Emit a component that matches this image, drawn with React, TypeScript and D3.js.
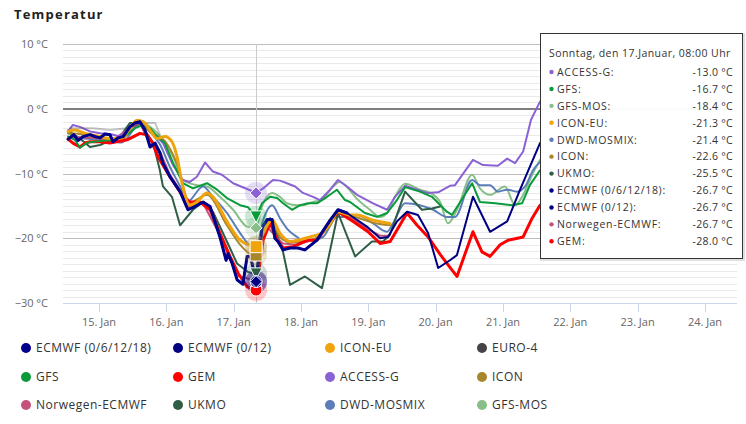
import React from 'react';
import * as d3 from 'd3';

const W = 746;
const H = 424;

const titleText = 'Temperatur';
const yTickValues = [10, 0, -10, -20, -30];
const xTickHours = [0, 24, 48, 72, 96, 120, 144, 168, 192, 216];
const xTickLabels = ['15. Jan', '16. Jan', '17. Jan', '18. Jan', '19. Jan', '20. Jan', '21. Jan', '22. Jan', '23. Jan', '24. Jan'];
const hoverHour = 56;
const tooltipHeader = 'Sonntag, den 17.Januar, 08:00 Uhr';

const seriesNames = ['ECMWF (0/6/12/18)', 'ECMWF (0/12)', 'ICON-EU', 'EURO-4', 'GFS', 'GEM', 'ACCESS-G', 'ICON', 'Norwegen-ECMWF', 'UKMO', 'DWD-MOSMIX', 'GFS-MOS'];
const seriesColors = ['#00008b', '#000080', '#efa30c', '#434348', '#0a9a3c', '#ff0000', '#8a62d4', '#a8862c', '#c2527a', '#2f5e46', '#5b7eb9', '#88bf88'];
const seriesSymbols = ['circle', 'diamond', 'square', 'triangle', 'triangle-down', 'circle', 'diamond', 'square', 'triangle', 'triangle-down', 'circle', 'diamond'];

// [hours from 15 Jan 00:00, °C]
const ecmwfData: [number, number][] = [
  [-11, -4.7], [-9, -4.0], [-7.5, -4.9], [-5.7, -4.3], [-3.2, -4.0], [-1.4, -4.3], [0.4, -4.5], [2.1, -3.9], [3.9, -4.0], [5, -5.1],
  [6.8, -4.5], [8.6, -4.3], [11, -2.8], [12.8, -2.2], [14.6, -2.0], [16.4, -3.3], [18.2, -5.9], [20, -5.3], [21.7, -6.8], [22.8, -8.4],
  [25.3, -10.5], [28.9, -12.8], [31.7, -15.6], [34.2, -15.1], [37.1, -14.4], [39.6, -15.1], [43.1, -19.8], [45.3, -23.4], [46, -22.4], [47.4, -23.8],
  [49.2, -26.4], [51.3, -27.1], [52.8, -22.8], [54, -22.8], [56, -26.7], [58.1, -18.4], [59.9, -17.1], [61.7, -17.1], [62.7, -20.0], [63.8, -20.5],
  [65.6, -21.8], [68.1, -21.5], [70.9, -21.5], [73.4, -21.8], [77.7, -20.3], [82.4, -17.2], [85.2, -15.6], [88.4, -16.1], [95.5, -18.2], [100.2, -20.0],
  [103, -19.8], [106.2, -17.4], [109.8, -15.9], [113.7, -16.4], [117.3, -19.2], [120.9, -24.6], [125.1, -23.4], [127.6, -22.6], [133.3, -13.6], [139.4, -19.0],
  [145.5, -17.4], [150.1, -12.5], [157.2, -5.3],
];
const ecmwf4RunsEnd = 88.4;

const iconEuData: [number, number][] = [
  [-11, -3.5], [-8.6, -3.3], [-5, -3.8], [0.4, -4.3], [3.9, -4.6], [8.2, -4.5], [11, -3.0], [13.5, -1.8], [15.7, -2.0], [18.2, -3.3],
  [20.7, -4.6], [23.5, -4.3], [26, -5.1], [27.8, -7.4], [29.6, -11.5], [32.4, -14.9], [34.9, -14.4], [38.5, -13.0], [40.6, -13.6], [45.6, -17.4],
  [50.3, -20.3], [53.1, -21.0], [56, -21.3], [58.5, -19.2], [61.7, -17.2], [64.5, -19.2], [68.1, -20.5], [70.9, -20.3], [75.2, -19.8], [79.5, -19.2],
  [82.4, -17.7], [85.2, -15.9], [89.5, -16.4], [92, -16.4], [97.7, -17.2], [103.7, -17.7],
];

const euro4Data: [number, number][] = [
  [-10.3, -3.0], [-2.1, -3.0], [3.9, -3.3], [10, -3.0], [15.7, -2.2], [20, -2.2], [21.7, -4.0],
];

const gfsData: [number, number][] = [
  [-11, -4.3], [-8.6, -4.8], [-6.8, -6.0], [-3.9, -5.2], [0.4, -5.0], [5.7, -4.8], [10, -4.0], [12.8, -3.0], [15.3, -2.6], [18.2, -3.0],
  [20.7, -4.3], [23.5, -5.3], [26.4, -8.4], [29.9, -11.5], [33.5, -12.3], [38.5, -11.5], [42.1, -12.5], [45.6, -13.8], [50.3, -14.9], [53.1, -15.2],
  [56, -16.7], [58.1, -14.6], [61, -13.6], [63.5, -13.8], [65.6, -14.6], [68.8, -15.6], [71.7, -14.9], [74.5, -14.6], [77.7, -14.6], [81.3, -13.6],
  [84.8, -12.5], [87.7, -14.1], [89.5, -14.4], [94.8, -16.1], [99.1, -16.7], [102.7, -16.1], [106.2, -14.1], [109.1, -12.1], [114.4, -12.8], [118.7, -13.6],
  [124, -15.9], [125.8, -16.4], [133, -11.5], [135.8, -14.4], [141.2, -14.6], [147.2, -14.9], [150.8, -14.6], [153.6, -11.8], [157.2, -9.5],
];

const gemData: [number, number][] = [
  [-11, -4.7], [-9.3, -5.3], [-6.8, -5.9], [-5, -5.3], [-3.2, -5.1], [0.4, -5.1], [3.9, -5.3], [10, -4.8], [14.6, -3.8], [17.1, -4.0],
  [18.9, -5.1], [21, -7.4], [25.3, -10.5], [29.6, -13.3], [32.4, -14.4], [36, -14.4], [39.6, -15.6], [43.1, -19.2], [46.7, -22.8], [49.6, -25.4],
  [52.8, -27.5], [56, -28.0], [58.5, -20.3], [61, -17.6], [63.5, -20.3], [65.6, -21.5], [69.2, -21.3], [74.2, -20.3], [77.7, -20.3], [81.3, -18.2],
  [85.2, -15.9], [90.6, -17.4], [95.9, -19.0], [100.2, -20.8], [103.8, -20.5], [109.8, -16.1], [113.4, -18.0], [117.3, -19.8], [121.6, -22.5], [125.1, -24.5],
  [127.6, -25.9], [133.3, -19.0], [136.5, -22.1], [139.4, -22.8], [143, -21.0], [145.8, -20.3], [151.2, -19.8], [154.4, -16.9], [157.2, -14.9],
];

const accessGData: [number, number][] = [
  [-11, -3.5], [-9.3, -2.5], [-6.8, -2.8], [-3.2, -3.5], [0.4, -3.8], [3.9, -3.9], [7.5, -4.3], [11, -3.0], [13.5, -1.75], [15.7, -2.0],
  [18.2, -3.3], [22.8, -5.3], [26.4, -8.7], [29.9, -11.0], [32.4, -11.3], [34.9, -10.5], [37.8, -8.3], [40.6, -9.7], [43.8, -10.2], [47.8, -11.5],
  [52.8, -12.4], [56, -13.0], [58.5, -12.3], [62, -11.0], [64.5, -11.1], [67, -11.5], [69.9, -12.0], [72.7, -13.0], [76.3, -13.6], [78.8, -14.1],
  [82.4, -12.5], [85.2, -11.0], [88.4, -12.0], [92, -13.3], [97.7, -14.6], [102.7, -15.6], [105.5, -13.6], [109.1, -11.9], [113.4, -12.5], [116.9, -13.0],
  [120.9, -12.9], [125.1, -11.9], [126.9, -11.8], [133.3, -7.9], [136.9, -8.7], [142.2, -8.8], [145.5, -7.7], [148.3, -8.4], [151.2, -6.6], [154, -1.7],
  [157.2, 1.1],
];

const iconData: [number, number][] = [
  [-11, -3.8], [-5, -4.0], [0.4, -4.5], [8.2, -4.7], [13.5, -2.0], [18.2, -3.6], [23.5, -5.0], [27.8, -8.5], [32.4, -14.6], [34.9, -14.0],
  [38.5, -13.3], [45.6, -18.0], [50.3, -21.0], [53.1, -22.2], [56, -22.6], [58.5, -19.8], [61.7, -17.6], [64.5, -19.8], [68.1, -20.6], [75.2, -20.3],
  [82.4, -18.0], [85.2, -16.1], [92, -16.8], [97.7, -17.6], [103.7, -18.0],
];

const norwegenData: [number, number][] = [
  [-11, -4.5], [-5.7, -4.4], [0.4, -4.6], [5, -4.8], [11, -3.0], [14.6, -2.2], [18.2, -5.5], [21.7, -6.6], [25.3, -10.2], [28.9, -12.6],
  [31.7, -15.2], [37.1, -14.6], [43.1, -19.5], [49.2, -25.8], [52.8, -26.2], [56, -26.7], [58.1, -19.0], [59.9, -18.2], [62.7, -19.6], [65.6, -20.8],
  [70.9, -21.0], [77.7, -20.0], [82.4, -17.4], [85.2, -15.9], [88.4, -16.4], [95.5, -18.5], [100.2, -19.6], [103, -19.6],
];

const ukmoData: [number, number][] = [
  [-10.3, -3.7], [-6.8, -4.6], [-3.2, -5.9], [0.4, -5.6], [2.9, -5.1], [7.5, -4.3], [11, -2.2], [14.6, -2.2], [19.3, -5.3], [21.7, -9.5],
  [22.8, -12.0], [26, -13.6], [28.9, -18.0], [33.5, -15.6], [37.1, -14.4], [40.6, -15.9], [45.6, -20.5], [49.2, -23.9], [53.1, -25.2], [56, -25.5],
  [58.5, -18.2], [61, -16.9], [65.2, -21.3], [68.1, -27.2], [73.4, -25.9], [79.5, -27.7], [85.2, -16.1], [91.3, -22.8], [97.3, -20.5], [101.2, -20.5],
  [103.7, -19.5], [109.1, -12.8], [115.1, -15.6], [118.7, -15.4], [121.6, -15.1],
];

const dwdMosmixData: [number, number][] = [
  [-11, -3.3], [-6.8, -4.5], [0.4, -4.8], [8.2, -5.2], [12.8, -3.0], [15.7, -2.2], [18.2, -3.5], [21.7, -5.5], [25.3, -9.0], [28.9, -12.0],
  [31.4, -14.4], [37.1, -12.0], [40.6, -13.6], [45.6, -16.1], [50.3, -19.2], [53.1, -20.8], [56, -21.4], [58.5, -17.2], [61.7, -14.9], [64.5, -16.9],
  [67, -18.5], [70.6, -19.8], [73.4, -20.5], [76.3, -20.3], [79.9, -19.8], [84.8, -16.7], [88.4, -16.7], [92, -16.4], [97.7, -17.7], [102.7, -19.0],
  [104.8, -17.7], [109.1, -14.6], [114.4, -14.9], [119.1, -15.6], [124, -16.7], [126.9, -16.7], [133, -11.0], [135.8, -11.8], [139.4, -11.8], [142.2, -12.8],
  [145.5, -12.5], [149, -12.8], [151.9, -12.0], [154.7, -9.5], [157.2, -8.2],
];

const gfsMosData: [number, number][] = [
  [-11, -3.8], [-6.8, -4.5], [0.4, -4.6], [7.5, -4.8], [12.8, -2.8], [15.3, -2.2], [18.2, -2.8], [21.7, -4.2], [24, -5.5], [26.4, -7.4],
  [29.9, -11.0], [34.9, -11.8], [38.5, -12.0], [43.1, -13.6], [47.8, -15.6], [52.8, -18.2], [56, -18.4], [58.1, -15.1], [61.7, -13.0], [64.5, -13.6],
  [67, -14.6], [70.6, -14.9], [72.7, -14.9], [76.3, -14.4], [79.5, -14.1], [82.4, -12.5], [85.9, -11.3], [88.8, -12.3], [91.3, -13.6], [96.6, -15.6],
  [100.2, -16.7], [102.7, -16.1], [105.5, -13.6], [109.1, -11.6], [114.4, -12.5], [118, -13.0], [121.6, -14.4], [124.4, -17.7], [127.6, -15.6], [133, -10.2],
  [135.8, -12.3], [139.4, -13.3], [144.7, -12.0], [148.3, -14.9], [151.2, -13.3], [154.4, -10.2], [157.2, -7.9],
];

const seriesData: [number, number][][] = [
  ecmwfData.filter((d) => d[0] <= ecmwf4RunsEnd),
  ecmwfData,
  iconEuData,
  euro4Data,
  gfsData,
  gemData,
  accessGData,
  iconData,
  norwegenData,
  ukmoData,
  dwdMosmixData,
  gfsMosData,
];
const seriesWidths = [3, 2, 3, 2, 2, 3, 2, 2, 2, 2, 2, 2];
const seriesOpacity = [1, 1, 1, 0.3, 1, 1, 1, 1, 1, 1, 1, 1];
const seriesSmooth = [false, false, true, false, false, false, false, true, false, false, true, true];

const FONT = "'Open Sans', 'DejaVu Sans', sans-serif";

const plotLeft = 63;
const plotRight = 737;
const plotTop = 44;
const plotBottom = 303;

function symbolPath(sym: string, cx: number, cy: number, r: number): string {
  switch (sym) {
    case 'diamond':
      return `M${cx},${cy - r}L${cx + r},${cy}L${cx},${cy + r}L${cx - r},${cy}Z`;
    case 'square':
      return `M${cx - r},${cy - r}L${cx + r},${cy - r}L${cx + r},${cy + r}L${cx - r},${cy + r}Z`;
    case 'triangle':
      return `M${cx},${cy - r}L${cx + r},${cy + r}L${cx - r},${cy + r}Z`;
    case 'triangle-down':
      return `M${cx - r},${cy - r}L${cx + r},${cy - r}L${cx},${cy + r}Z`;
    default:
      return `M${cx - r},${cy}A${r},${r} 0 1,0 ${cx + r},${cy}A${r},${r} 0 1,0 ${cx - r},${cy}Z`;
  }
}

export default function App() {
  const x = d3.scaleLinear().domain([-12.83, 227.42]).range([plotLeft, plotRight]);
  const y = d3.scaleLinear().domain([-30, 10]).range([plotBottom, plotTop]);

  const minorTicks = d3.range(-30, 11, 1);

  const lineGen = (smooth: boolean) =>
    d3
      .line<[number, number]>()
      .x((d) => x(d[0]))
      .y((d) => y(d[1]))
      .curve(smooth ? d3.curveMonotoneX : d3.curveLinear);

  const drawOrder = d3.range(seriesNames.length).reverse();

  const hoverX = x(hoverHour);
  const hovered = seriesNames
    .map((name, i) => {
      const p = seriesData[i].find((d) => d[0] === hoverHour);
      return p ? { i, name, v: p[1] } : null;
    })
    .filter((d) => d !== null) as { i: number; name: string; v: number }[];
  const tooltipRows = [...hovered].sort((a, b) => b.v - a.v || a.i - b.i);
  const markerOrder = [...hovered].sort((a, b) => {
    const ra = a.i === 1 ? -1 : a.i;
    const rb = b.i === 1 ? -1 : b.i;
    return rb - ra;
  });

  const legendColX = [26, 178, 330, 482];
  const legendRowY = [348, 377, 405];

  const tipX = 540.5;
  const tipY = 33.5;
  const tipW = 202;
  const tipH = 225;

  return (
    <svg width={W} height={H} style={{ position: 'absolute', left: 0, top: 0, background: '#fff' }} fontFamily={FONT}>
      <rect x={0} y={0} width={W} height={H} fill="#fff" />
      <text x={14} y={19} fontSize={13} fontWeight={700} fill="#222" letterSpacing={1.2}>
        {titleText}
      </text>

      {/* minor grid */}
      {minorTicks
        .filter((t) => t % 10 !== 0)
        .map((t) => (
          <line key={'m' + t} x1={plotLeft} x2={plotRight} y1={Math.round(y(t)) + 0.5} y2={Math.round(y(t)) + 0.5} stroke="#e9e9e9" strokeWidth={1} />
        ))}
      {/* major grid */}
      {yTickValues
        .filter((t) => t !== -30)
        .map((t) => (
          <line
            key={'g' + t}
            x1={plotLeft}
            x2={plotRight}
            y1={Math.round(y(t)) + (t === 0 ? 0 : 0.5)}
            y2={Math.round(y(t)) + (t === 0 ? 0 : 0.5)}
            stroke={t === 0 ? '#7f7f7f' : '#bdbdbd'}
            strokeWidth={t === 0 ? 2 : 1}
          />
        ))}
      {/* y labels */}
      {yTickValues.map((t) => (
        <text key={'yl' + t} x={48} y={y(t) + 4} textAnchor="end" fontSize={11} fill="#666">
          {(t < 0 ? '\u2212' + Math.abs(t) : String(t)) + ' °C'}
        </text>
      ))}

      {/* x axis */}
      <line x1={plotLeft} x2={plotRight} y1={plotBottom + 0.5} y2={plotBottom + 0.5} stroke="#ccd6eb" strokeWidth={1} />
      {xTickHours.map((h, k) => (
        <g key={'xt' + h}>
          <line x1={Math.round(x(h)) + 0.5} x2={Math.round(x(h)) + 0.5} y1={plotBottom} y2={plotBottom + 9} stroke="#ccd6eb" strokeWidth={1} />
          <text x={x(h)} y={326} textAnchor="middle" fontSize={11} fill="#666">
            {xTickLabels[k]}
          </text>
        </g>
      ))}

      {/* crosshair */}
      <line x1={Math.round(hoverX) + 0.5} x2={Math.round(hoverX) + 0.5} y1={plotTop} y2={plotBottom} stroke="#cccccc" strokeWidth={1} />

      {/* series lines */}
      {drawOrder.map((i) => (
        <path
          key={'s' + i}
          d={lineGen(seriesSmooth[i])(seriesData[i]) || ''}
          fill="none"
          stroke={seriesColors[i]}
          strokeOpacity={seriesOpacity[i]}
          strokeWidth={seriesWidths[i]}
          strokeLinejoin="round"
          strokeLinecap="round"
        />
      ))}

      {/* halos */}
      {markerOrder.map((h) => (
        <circle key={'h' + h.i} cx={hoverX} cy={y(h.v)} r={11} fill={seriesColors[h.i]} fillOpacity={0.22} />
      ))}
      {/* hover markers */}
      {markerOrder.map((h) => (
        <path key={'mk' + h.i} d={symbolPath(seriesSymbols[h.i], hoverX, y(h.v), 6)} fill={seriesColors[h.i]} stroke="#fff" strokeWidth={1} />
      ))}

      {/* tooltip */}
      <rect x={tipX + 1} y={tipY + 1} width={tipW} height={tipH} fill="none" stroke="#000" strokeOpacity={0.12} strokeWidth={3} />
      <rect x={tipX} y={tipY} width={tipW} height={tipH} fill="#fff" fillOpacity={0.97} stroke="#333" strokeWidth={1} />
      <text x={549} y={57} fontSize={10.5} fill="#333" letterSpacing={0.45}>
        {tooltipHeader}
      </text>
      {tooltipRows.map((r, k) => {
        const cy = 72 + k * 16.93;
        return (
          <g key={'tr' + r.i}>
            <circle cx={551.5} cy={cy} r={2.2} fill={seriesColors[r.i]} />
            <text x={557} y={cy + 3.8} fontSize={10.5} fill="#333" letterSpacing={0.7}>
              {r.name + ':'}
            </text>
            <text x={733} y={cy + 3.8} fontSize={10.5} fill="#333" textAnchor="end" letterSpacing={0.3}>
              {r.v.toFixed(1) + ' °C'}
            </text>
          </g>
        );
      })}

      {/* legend */}
      {seriesNames.map((name, i) => {
        const col = i % 4;
        const row = Math.floor(i / 4);
        const lx = legendColX[col];
        const ly = legendRowY[row];
        return (
          <g key={'lg' + i}>
            <circle cx={lx} cy={ly} r={5} fill={seriesColors[i]} />
            <text x={lx + 10} y={ly + 4} fontSize={12} fill="#333" letterSpacing={0.5}>
              {name}
            </text>
          </g>
        );
      })}
    </svg>
  );
}
